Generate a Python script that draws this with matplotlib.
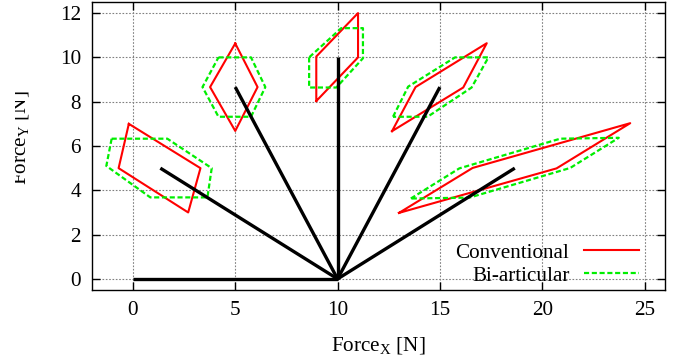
import matplotlib
matplotlib.use("Agg")
import matplotlib.pyplot as plt
from matplotlib.transforms import Bbox

# force vectors: all start at the hand position (10, 0)
origin_x = 10.0
origin_y = 0.0
end_x = [0.0, 1.34, 5.0, 10.0, 15.0, 18.66]
end_y = [0.0, 5.0, 8.66, 10.0, 8.66, 5.0]

# Conventional (red) output-force polygons
conv_x = [
    [-0.2, 3.3, 2.7, -0.7],
    [5.0, 6.09, 5.0, 3.77],
    [8.96, 8.96, 11.0, 11.0],
    [12.66, 13.81, 17.29, 16.14],
    [13.0, 16.6, 24.3, 20.7],
]
conv_y = [
    [7.0, 5.0, 3.0, 5.0],
    [10.63, 8.66, 6.68, 8.66],
    [8.03, 10.04, 12.0, 10.0],
    [6.67, 8.66, 10.64, 8.64],
    [2.98, 5.01, 7.03, 4.99],
]

# Bi-articular (green) output-force polygons
bi_x = [
    [-1.04, 1.68, 3.85, 3.64, 0.85, -1.3],
    [4.18, 5.77, 6.47, 5.77, 4.18, 3.40],
    [8.61, 8.61, 9.94, 11.24, 11.24, 10.18],
    [12.71, 13.45, 15.74, 17.37, 16.55, 14.40],
    [13.58, 15.95, 20.88, 23.74, 21.37, 16.44],
]
bi_y = [
    [6.33, 6.33, 5.0, 3.68, 3.68, 5.1],
    [10.0, 10.0, 8.66, 7.32, 7.32, 8.66],
    [10.0, 8.64, 8.64, 9.96, 11.32, 11.32],
    [7.32, 8.68, 10.0, 10.0, 8.64, 7.32],
    [3.63, 4.99, 6.33, 6.37, 5.01, 3.67],
]

FS = 15.2
plt.rcParams["font.family"] = ["Liberation Serif", "DejaVu Serif"]
plt.rcParams["mathtext.fontset"] = "custom"
plt.rcParams["mathtext.rm"] = "Liberation Serif"
plt.rcParams["mathtext.it"] = "Liberation Serif:italic"
plt.rcParams["font.size"] = FS

fig = plt.figure(figsize=(6.75, 3.56), dpi=100)
W, H = 675, 356
ax = fig.add_axes([92 / W, (H - 290) / H, 573 / W, 288 / H])

for i in range(len(conv_x)):
    xs = conv_x[i] + conv_x[i][:1]
    ys = conv_y[i] + conv_y[i][:1]
    ax.plot(xs, ys, color="#ff0000", lw=1.5,
            label="Conventional" if i == 0 else None, zorder=3)
for i in range(len(bi_x)):
    xs = bi_x[i] + bi_x[i][:1]
    ys = bi_y[i] + bi_y[i][:1]
    ax.plot(xs, ys, color="#00ee00", lw=1.6, dashes=(2.3, 1.2),
            label="Bi-articular" if i == 0 else None, zorder=3)

for ex, ey in zip(end_x, end_y):
    ax.plot([origin_x, ex], [origin_y, ey], color="black", lw=2.4,
            solid_capstyle="butt", zorder=4)

ax.set_xlim(-2, 26)
ax.set_ylim(-0.5, 12.5)
ax.set_xticks([0, 5, 10, 15, 20, 25])
ax.set_yticks([0, 2, 4, 6, 8, 10, 12])
ax.grid(True, color="0.5", lw=0.8, linestyle=(0, (1.5, 1.5)))
ax.set_axisbelow(True)
ax.tick_params(direction="in", length=6, width=1, top=True, right=True,
               labelsize=FS)
ax.tick_params(axis="x", pad=8)
ax.tick_params(axis="y", pad=8)
for s in ax.spines.values():
    s.set_linewidth(1.0)

ax.set_xlabel("Force$_\\mathrm{X}$ [N]", fontsize=FS)
ax.xaxis.set_label_coords(0.5, -0.155)
ylab = ax.set_ylabel("Force$_\\mathrm{Y}$ [N]", fontsize=FS)
ax.yaxis.set_label_coords(-0.106, 0.53)
# the left part of the y label is cut off in the original
ylab.set_clip_box(Bbox.from_extents(15, 0, W, H))
ylab.set_clip_on(True)

leg = ax.legend(loc="lower right", bbox_to_anchor=(0.9546, 0.015),
                frameon=False, markerfirst=False, borderpad=0,
                borderaxespad=0, handlelength=2.6, handletextpad=0.7,
                labelspacing=0.15, fontsize=FS)

fig.savefig("out.png", dpi=100)
